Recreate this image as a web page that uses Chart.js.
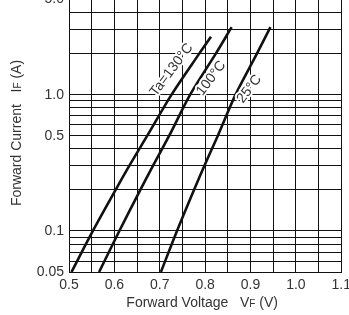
<!DOCTYPE html>
<html><head><meta charset="utf-8">
<script src="https://cdn.jsdelivr.net/npm/chart.js@4.4.1/dist/chart.umd.min.js"></script>
<style>
html,body{margin:0;padding:0;background:#fff;overflow:hidden;width:349px;height:315px;}
#wrap{position:absolute;left:0;top:-14px;width:356px;height:329px;}
</style></head><body>
<div id="wrap"><canvas id="c" width="356" height="329"></canvas></div>
<script>
// ---- data ----
const xTickValues = [0.5,0.55,0.6,0.65,0.7,0.75,0.8,0.85,0.9,0.95,1.0,1.05,1.1];
const xLabelValues = [0.5,0.6,0.7,0.8,0.9,1.0,1.1];
const xLabels = ['0.5','0.6','0.7','0.8','0.9','1.0','1.1'];
const yTickValues = [0.05,0.06,0.07,0.08,0.09,0.1,0.2,0.3,0.4,0.5,0.6,0.7,0.8,0.9,1,2,3,4,5];
const yLabelValues = [0.05,0.1,0.5,1,5];
const yLabels = ['0.05','0.1','0.5','1.0','5.0'];

const vf130 = [0.5055,0.5526,0.6027,0.6327,0.6725,0.7260,0.7870,0.8129];
const if130 = [0.05,0.1,0.2,0.3,0.5,1.0,2.0,2.66];
const vf100 = [0.5663,0.6109,0.6572,0.6849,0.7208,0.7670,0.8235,0.8584];
const if100 = [0.05,0.1,0.2,0.3,0.5,1.0,2.0,3.13];
const vf25  = [0.7025,0.7379,0.7754,0.7981,0.8280,0.8670,0.9141,0.9439];
const if25  = [0.05,0.1,0.2,0.3,0.5,1.0,2.0,3.13];

const curveNames = ['Ta=130°C','100°C','25°C'];
const labelV = [0.726,0.8135,0.8975];
const labelI = [1.52,1.32,1.10];

const xTitle = ['Forward Voltage   V','F',' (V)'];
const yTitle = ['Forward Current   I','F',' (A)'];

// ---- chart ----
const FONT = 'Liberation Sans, Arial, sans-serif';
const TXT = '#333';
function pts(xs, ys){ return xs.map((v,i)=>({x:v,y:ys[i]})); }
function ds(xs, ys){
  return {data:pts(xs,ys), showLine:true, borderColor:'#111', borderWidth:2.6,
          pointRadius:0, tension:0.3, fill:false};
}
function lbl(vals, labs, v){
  for(let i=0;i<vals.length;i++){ if(Math.abs(vals[i]-v)<1e-6) return labs[i]; }
  return '';
}
function drawRuns(ctx, runs, sizes, cx, cy){
  let w=0;
  runs.forEach((r,i)=>{ ctx.font = sizes[i]+'px '+FONT; w+=ctx.measureText(r).width; });
  let x = cx - w/2;
  ctx.textAlign='left'; ctx.textBaseline='alphabetic';
  runs.forEach((r,i)=>{ ctx.font = sizes[i]+'px '+FONT; ctx.fillText(r,x,cy); x+=ctx.measureText(r).width; });
}
const extras = {
  id:'extras',
  afterDatasetsDraw(chart){
    const ctx = chart.ctx, xs = chart.scales.x, ys = chart.scales.y;
    ctx.save();
    ctx.fillStyle = TXT;
    ctx.font = '14px '+FONT;
    ctx.textAlign='center'; ctx.textBaseline='middle';
    curveNames.forEach((n,i)=>{
      const px = xs.getPixelForValue(labelV[i]), py = ys.getPixelForValue(labelI[i]);
      ctx.save(); ctx.translate(px,py); ctx.rotate(-53*Math.PI/180);
      ctx.lineWidth = 4; ctx.strokeStyle = '#fff'; ctx.lineJoin='round';
      ctx.strokeText(n,0,0); ctx.fillText(n,0,0);
      ctx.restore();
    });
    const area = chart.chartArea;
    drawRuns(ctx, xTitle, [14,10,14], (area.left+area.right)/2 - 3, 321);
    ctx.save(); ctx.translate(21, 147); ctx.rotate(-Math.PI/2);
    drawRuns(ctx, yTitle, [14,10,14], 0, 0);
    ctx.restore();
    ctx.restore();
  }
};

new Chart(document.getElementById('c'), {
  type:'scatter',
  data:{datasets:[ds(vf130,if130), ds(vf100,if100), ds(vf25,if25)]},
  options:{
    responsive:false, animation:false, devicePixelRatio:1,
    layout:{padding:{top:0,right:12,left:0,bottom:0}},
    plugins:{legend:{display:false}, tooltip:{enabled:false}},
    scales:{
      x:{type:'linear', min:0.5, max:1.1,
        afterBuildTicks:s=>{ s.ticks = xTickValues.map(v=>({value:v})); },
        afterFit:s=>{ s.height = 43; },
        ticks:{autoSkip:false, maxRotation:0, padding:5, color:TXT,
               font:{family:FONT,size:14}, callback:v=>lbl(xLabelValues,xLabels,v)},
        grid:{color:'#111', lineWidth:1, drawTicks:false},
        border:{color:'#111', width:1}
      },
      y:{type:'logarithmic', min:0.05, max:5,
        afterBuildTicks:s=>{ s.ticks = yTickValues.map(v=>({value:v})); },
        afterFit:s=>{ s.width = 69; },
        ticks:{autoSkip:false, padding:5, color:TXT,
               font:{family:FONT,size:14}, callback:v=>lbl(yLabelValues,yLabels,v)},
        grid:{color:'#111', lineWidth:1, drawTicks:false},
        border:{color:'#111', width:1}
      }
    }
  },
  plugins:[extras]
});
</script>
</body></html>
